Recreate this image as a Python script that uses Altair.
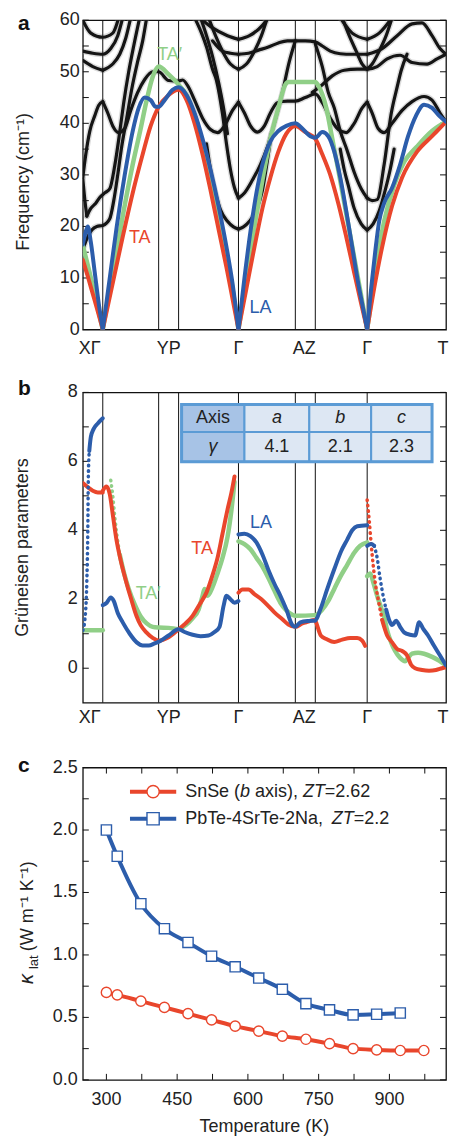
import altair as alt
import pandas as pd

FONT = "Liberation Sans"
RED = "#e9462c"
GREEN = "#90cf87"
BLUE = "#2c5dab"
BLACK = "#151515"
FRAME = "#111111"
TEXT = "#222222"

W = 364
H_A, H_B, H_C = 310, 311, 313

K_DOMAIN = [0, 364]
SYM_K = [20, 76, 96, 156, 213, 233, 285]
PATH_LABEL_K = [7, 86, 156, 222, 285, 361]
PATH_LABEL_TEXT = ["XΓ", "YP", "Γ", "AZ", "Γ", "T"]

FREQ_TICKS = [0, 5, 10, 15, 20, 25, 30, 35, 40, 45, 50, 55, 60]
FREQ_LABELS = [0, 10, 20, 30, 40, 50, 60]

TA_A = [
    [(0, 13.5), (5, 10.3), (10, 6.9), (15, 3.5), (20, 0)],
    [(20, 0), (30, 9), (40, 18), (50, 26.5), (60, 34), (68, 39.5), (76, 43.2), (86, 45.5), (96, 46.5),
     (104, 44.5), (112, 40), (120, 34), (128, 27), (136, 19.5), (144, 12), (150, 6), (156, 0)],
    [(156, 0), (164, 8), (172, 16), (180, 23.5), (188, 29.5), (196, 34.5), (204, 38), (213, 39.5),
     (223, 38.3), (233, 37), (240, 34), (248, 30), (256, 24.5), (264, 18), (272, 11), (279, 5), (285, 0)],
    [(285, 0), (292, 8), (300, 16), (310, 24), (320, 29.5), (335, 34.5), (350, 37.5), (364, 40.3)],
]
TAP_A = [
    [(0, 16.3), (10, 8.5), (20, 0)],
    [(20, 0), (30, 11), (40, 22), (50, 32), (58, 39), (64, 44.5), (70, 49), (76, 51), (86, 49.5), (96, 47.5),
     (104, 45.5), (112, 41.5), (120, 36), (128, 29.5), (136, 22.5), (144, 14.5), (150, 8), (156, 0)],
    [(156, 0), (164, 10), (172, 20), (180, 29), (188, 37), (196, 43), (203, 47.5), (206, 48), (233, 48),
     (236, 47.3), (244, 43), (250, 37), (256, 31), (264, 22.5), (272, 14), (279, 6.5), (285, 0)],
    [(285, 0), (293, 11), (302, 21), (312, 28), (322, 32.5), (335, 35.5), (350, 38.5), (364, 40.3)],
]
LA_A = [
    [(0, 16.5), (3, 19), (5, 20), (8, 17), (12, 11), (16, 5), (20, 0)],
    [(20, 0), (27, 10), (34, 20), (42, 30), (50, 38.5), (56, 43), (62, 45), (68, 44.5), (73, 43.2), (76, 43.2),
     (82, 44.5), (90, 46.5), (96, 47), (104, 45.5), (112, 42), (120, 37), (128, 31), (136, 24), (144, 16),
     (150, 9), (156, 0)],
    [(156, 0), (162, 10), (168, 19), (174, 26.5), (180, 32), (188, 36.5), (196, 38.5), (204, 39.5), (213, 40),
     (220, 39), (228, 37.5), (233, 37.2), (240, 38.3), (246, 37.5), (252, 34.5), (258, 29.5), (264, 23),
     (270, 16), (276, 9), (281, 4), (285, 0)],
    [(285, 0), (289, 8), (293, 15), (297, 21), (302, 24.5), (310, 27.5), (318, 32), (326, 37.5), (334, 41.5),
     (342, 43.6), (350, 43), (357, 41.5), (364, 40.3)],
]

OPT_LOW = [
    [(0, 29.5), (3, 34), (7, 38.5), (12, 41.5), (16, 43.5), (20, 44.2)],
    [(20, 44.2), (25, 42), (30, 39.5), (36, 38.2), (42, 39), (48, 42.5), (55, 46), (62, 48.5), (70, 50),
     (76, 50), (86, 48.3), (96, 48.2), (100, 48.4), (106, 47), (112, 44.5), (120, 41), (128, 38.8),
     (135, 38.2), (142, 39.5), (150, 42.5), (156, 44.1)],
    [(156, 44.1), (162, 42), (168, 39.5), (175, 38.3), (182, 39.5), (188, 42), (195, 44), (205, 44.3),
     (213, 44.3), (223, 45), (233, 45.7), (240, 44), (248, 41), (256, 38.8), (264, 38.2), (272, 40),
     (280, 43), (285, 44.1)],
    [(285, 44.1), (290, 42), (296, 39), (302, 38.2), (310, 40), (320, 42.5), (330, 44.2), (342, 45.2),
     (350, 44.5), (358, 42), (364, 40.3)],
]
OPT_X = [
    [(0, 29.2), (2, 25.2), (4, 22)],
    [(4, 22), (8, 23.5), (13, 24.5), (17, 25.6), (22, 26.5), (27, 27.3), (32, 31.8), (37, 38.3), (41, 44),
     (46, 50), (51, 55), (57, 60.5)],
    [(0, 15.5), (4, 17.6), (9, 19.3), (14, 20), (20, 20.2), (27, 21.5), (31, 25), (35, 30), (39, 35.5),
     (44, 41), (49, 46.6), (55, 52), (60, 56), (64, 60.5)],
]
OPT_G2 = [
    [(112, 60.5), (119, 57.5), (124, 54.8), (130, 50.5), (134, 48.3), (140, 41.8), (144, 36), (148, 31),
     (152, 27.5), (156, 25.5)],
    [(156, 25.5), (162, 26.5), (170, 29), (178, 32), (185, 35.4), (192, 40), (200, 46), (207, 52), (213, 56)],
    [(124, 36), (128, 31), (133, 26.5), (138, 23.2), (145, 21), (151, 19.9), (156, 19.5)],
    [(156, 19.5), (161, 19.9), (167, 21), (174, 23.2), (180, 27), (185, 32.8), (189, 38)],
    [(118, 60.5), (124, 57), (130, 53), (136, 48), (141, 43), (145, 38)],
]
OPT_G3 = [
    [(233, 55.4), (240, 51), (246, 46), (252, 43), (258, 38.5), (265, 34.7), (272, 30.5), (279, 27.3),
     (285, 25.5)],
    [(285, 25.5), (290, 25), (295, 25.2), (302, 32), (309, 41.8), (315, 47), (319, 50.2), (325, 53.4)],
    [(258, 35), (262, 31), (266, 28), (272, 23.5), (279, 20.5), (285, 19.3)],
    [(285, 19.3), (291, 20.5), (297, 23), (303, 27), (308, 31), (312, 35)],
]
OPT_HIGH = [
    [(0, 52.2), (10, 51), (20, 50.3)],
    [(20, 50.3), (30, 51.5), (37, 53.4), (43, 56.5), (48, 60.5)],
    [(0, 54), (10, 53.6), (20, 53.4), (28, 54.5), (35, 57), (40, 60.5)],
    [(0, 60), (8, 57.5), (20, 56.7), (30, 57.5), (36, 60.5)],
    [(126, 60.5), (133, 57), (140, 54), (148, 51.5), (156, 50.5)],
    [(156, 50.5), (164, 51.5), (172, 54), (179, 57), (185, 60.5)],
    [(130, 56), (140, 54), (148, 53.6), (156, 53.4)],
    [(156, 53.4), (166, 53.6), (176, 54.2), (186, 54.8), (196, 55.6), (205, 56), (213, 56), (223, 56),
     (233, 55.8), (240, 55), (248, 54), (258, 53.5), (270, 53.4), (285, 53.4)],
    [(117, 60.5), (130, 58.5), (145, 57), (156, 56.3)],
    [(156, 56.3), (167, 57), (180, 59), (186, 60.5)],
    [(260, 60.5), (267, 57), (274, 54), (280, 51.5), (285, 50.5)],
    [(285, 50.5), (290, 51.5), (297, 54), (304, 57), (310, 60.5)],
    [(258, 60.5), (270, 57.5), (285, 56.3)],
    [(285, 56.3), (297, 57.5), (310, 60.5)],
    [(230, 46), (240, 47.5), (250, 49.2), (262, 50.3), (275, 50.5), (285, 50.5), (295, 51), (305, 52.5),
     (318, 53.2), (330, 51.8), (345, 51.5), (355, 52.5), (364, 53.4)],
    [(285, 53.4), (300, 54.5), (315, 57), (330, 59.3), (340, 59.5), (350, 57), (358, 54.5), (364, 53.4)],
]

LABELS_A_TEXT = ["TA′", "TA", "LA"]
LABELS_A_K = [87, 57, 178]
LABELS_A_V = [53.2, 17.7, 4.1]
LABELS_A_COLOR = [GREEN, RED, BLUE]

GAMMA_TICKS = [0, 1, 2, 3, 4, 5, 6, 7, 8]
GAMMA_LABELS = [0, 2, 4, 6, 8]

LA_B = [
    [(6.5, 6.3), (8, 6.7), (11, 6.95), (15, 7.1), (20, 7.25)],
    [(20, 1.83), (24, 1.9), (28, 2.05), (31, 1.95), (35, 1.6), (40, 1.33), (47, 1.0), (54, 0.75), (60, 0.66),
     (66, 0.66), (72, 0.72), (78, 0.8), (86, 0.95), (96, 1.13), (102, 1.05), (110, 0.97), (118, 0.93),
     (126, 0.95), (132, 1.05), (137, 1.2), (141, 1.8), (144, 2.1), (148, 2.0), (152, 1.9), (156, 1.95)],
    [(156, 3.88), (162, 3.9), (168, 3.83), (174, 3.65), (180, 3.3), (186, 2.85), (192, 2.45), (198, 2.1),
     (204, 1.7), (210, 1.25), (213, 1.2), (218, 1.33), (226, 1.37), (233, 1.38), (238, 1.7), (245, 2.3),
     (252, 2.87), (259, 3.4), (265, 3.73), (270, 4.0), (275, 4.12), (285, 4.15)],
    [(285, 3.55), (289, 3.6), (292, 3.55)],
    [(304, 1.7), (307, 1.4), (310, 1.25), (314, 1.38), (318, 1.2), (322, 1.04), (328, 0.97), (333, 0.95),
     (337, 1.33), (341, 1.15), (346, 0.95), (352, 0.65), (358, 0.37), (364, 0.08)],
]
LA_B_DOTTED = [
    [(0, 1.1), (2, 1.4), (4, 2.5), (5, 4), (5.5, 5.5), (6.5, 6.3)],
    [(292, 3.55), (295, 3.2), (298, 2.6), (301, 2.1), (304, 1.7)],
]
TA_B = [
    [(0, 5.37), (5, 5.25), (10, 5.15), (15, 5.1), (20, 5.1)],
    [(20, 5.15), (23.7, 5.27), (27, 5.05), (30.3, 4.4), (33.7, 3.73), (37, 3.25), (43.7, 2.48), (48, 2.05),
     (53.7, 1.52), (58, 1.25), (63.7, 1.04), (70, 0.88), (76, 0.8), (86, 0.9), (96, 1.13), (103, 1.3),
     (110, 1.52), (117, 1.85), (124, 2.2), (130, 2.7), (135, 3.2), (140, 3.9), (145, 4.6), (149, 5.1),
     (152, 5.56)],
    [(156, 2.19), (160, 2.28), (166, 2.28), (172, 2.15), (179, 2.0), (186, 1.8), (192, 1.62), (200, 1.42),
     (206, 1.27), (213, 1.2), (220, 1.3), (226, 1.35), (232, 1.4), (238.7, 0.94), (244, 0.85), (252, 0.76),
     (260, 0.83), (268, 0.88), (275, 0.88), (280, 0.8), (283, 0.65)],
    [(300, 1.4), (305, 0.95), (310, 0.75), (315, 0.56), (320, 0.5), (325, 0.37), (329, 0.1), (333, 0.0),
     (340, -0.05), (347, -0.07), (354, -0.05), (360, 0.0), (364, 0.03)],
]
TA_B_DOTTED = [
    [(285, 4.88), (287, 4.3), (289, 3.6), (291, 3.0), (293, 2.5), (296, 2.0), (300, 1.4)],
]
TAP_B = [
    [(0, 1.1), (20, 1.1)],
    [(37, 3.3), (41, 2.8), (46, 2.3), (52, 1.85), (58, 1.5), (64, 1.3), (70, 1.2), (76, 1.18), (86, 1.17),
     (96, 1.13), (103, 1.25), (110, 1.45), (116, 1.7), (120, 2.1), (122, 2.3), (125, 2.1), (130, 2.35),
     (135, 2.75), (140, 3.2), (145, 3.8), (149, 4.6), (152, 5.4)],
    [(156, 3.68), (162, 3.6), (168, 3.45), (174, 3.2), (180, 2.95), (186, 2.62), (192, 2.25), (198, 1.9),
     (204, 1.68), (210, 1.55), (213, 1.52), (233, 1.54), (240, 1.7), (246, 1.95), (252, 2.3), (258, 2.65),
     (265, 3.0), (272, 3.35), (278, 3.55), (285, 3.65)],
    [(285, 2.67), (288, 2.75), (291, 2.5), (295, 2.1), (299, 1.75), (302, 1.5), (305, 1.1), (309, 0.75),
     (313, 0.5), (318, 0.3), (323, 0.2), (326, 0.3), (330, 0.42), (336, 0.45), (342, 0.42), (350, 0.33),
     (357, 0.22), (364, 0.08)],
]
TAP_B_DOTTED = [
    [(28, 5.45), (30, 5.0), (32, 4.4), (34, 3.9), (37, 3.3)],
]

LABELS_B_TEXT = ["TA′", "TA", "LA"]
LABELS_B_K = [65.5, 119.5, 178.5]
LABELS_B_V = [2.16, 3.47, 4.22]
LABELS_B_COLOR = [GREEN, RED, BLUE]

TABLE_K_EDGES = [99, 162, 227, 289, 350]
TABLE_V_EDGES = [7.65, 6.85, 5.99]
TABLE_HEAD = ["Axis", "a", "b", "c"]
TABLE_ROW = ["γ", "4.1", "2.1", "2.3"]
TABLE_DARK = "#a7c3e6"
TABLE_LIGHT = "#dde7f3"
TABLE_BORDER = "#5b9bd5"

SNSE_T = [300, 323, 373, 423, 473, 523, 573, 623, 673, 723, 773, 823, 873, 923, 973]
SNSE_K = [0.70, 0.68, 0.63, 0.58, 0.53, 0.48, 0.43, 0.39, 0.35, 0.325, 0.29, 0.25, 0.24, 0.235, 0.235]
PBTE_T = [300, 323, 373, 423, 473, 523, 573, 623, 673, 723, 773, 823, 873, 923]
PBTE_K = [2.0, 1.79, 1.41, 1.21, 1.10, 0.99, 0.905, 0.815, 0.725, 0.61, 0.56, 0.52, 0.525, 0.535]
T_TICKS = [300, 375, 450, 525, 600, 675, 750, 825, 900, 975]
T_LABELS = [300, 450, 600, 750, 900]
KAPPA_TICKS = [0, 0.25, 0.5, 0.75, 1.0, 1.25, 1.5, 1.75, 2.0, 2.25, 2.5]
KAPPA_LABELS = [0, 0.5, 1.0, 1.5, 2.0, 2.5]
LEG_LINE_T = [350, 448]
LEG_SYM_T = 399
LEG_TEXT_T = 467
LEG_ROW_K = [2.307, 2.09]


def seg_df(segs, prefix):
    rows = []
    for i, seg in enumerate(segs):
        for k, v in seg:
            rows.append({"branch": f"{prefix}{i}", "k": k, "v": v})
    return pd.DataFrame(rows)


def path_lines(df, color, width, xs, ys, dash=None, opacity=1.0):
    kw = dict(color=color, strokeWidth=width, interpolate="monotone", clip=True,
              strokeCap="round", strokeJoin="round", opacity=opacity)
    if dash is not None:
        kw["strokeDash"] = dash
    return alt.Chart(df).mark_line(**kw).encode(
        x=alt.X("k:Q", scale=xs, axis=None),
        y=alt.Y("v:Q", scale=ys, axis=None),
        detail="branch:N",
    )


def inward_y_ticks(values, ys, width):
    df = pd.DataFrame({"v": values})
    left = alt.Chart(df).mark_rule(color=FRAME, strokeWidth=1).encode(
        y=alt.Y("v:Q", scale=ys, axis=None), x=alt.value(0), x2=alt.value(6))
    right = alt.Chart(df).mark_rule(color=FRAME, strokeWidth=1).encode(
        y=alt.Y("v:Q", scale=ys, axis=None), x=alt.value(width - 6), x2=alt.value(width))
    return [left, right]


def y_labels(values, texts, ys, pad):
    df = pd.DataFrame({"v": values, "t": texts})
    return alt.Chart(df).mark_text(font=FONT, fontSize=18, color=TEXT, align="right", baseline="middle").encode(
        y=alt.Y("v:Q", scale=ys, axis=None), x=alt.value(-pad), text="t:N")


def x_labels(values, texts, xs, y_px):
    df = pd.DataFrame({"k": values, "t": texts})
    return alt.Chart(df).mark_text(font=FONT, fontSize=18, color=TEXT, align="center", baseline="top").encode(
        x=alt.X("k:Q", scale=xs, axis=None), y=alt.value(y_px), text="t:N")


def rot_title(t, x_px, y_px):
    return alt.Chart(pd.DataFrame({"t": [t]})).mark_text(
        font=FONT, fontSize=18, color=TEXT, angle=270, align="center", baseline="middle"
    ).encode(x=alt.value(x_px), y=alt.value(y_px), text="t:N")


def letter(t, x, y):
    return alt.Chart(pd.DataFrame({"t": [t]})).mark_text(
        font=FONT, fontSize=21, fontWeight="bold", align="left", baseline="alphabetic", color="#111"
    ).encode(x=alt.value(x), y=alt.value(y), text="t:N")


def curve_labels(texts, ks, vs, colors, xs, ys):
    df = pd.DataFrame({"t": texts, "k": ks, "v": vs, "c": colors})
    return alt.Chart(df).mark_text(font=FONT, fontSize=18, align="center", baseline="middle").encode(
        x=alt.X("k:Q", scale=xs, axis=None), y=alt.Y("v:Q", scale=ys, axis=None),
        text="t:N", color=alt.Color("c:N", scale=None))


def sym_lines():
    return alt.Chart(pd.DataFrame({"k": SYM_K})).mark_rule(color=FRAME, strokeWidth=1).encode(
        x=alt.X("k:Q", scale=XS, axis=None))


# ================= panel a =================
XS = alt.Scale(domain=K_DOMAIN, nice=False, zero=False)
YS_A = alt.Scale(domain=[0, 60], nice=False, zero=False)

black_df = pd.concat([seg_df(OPT_LOW, "low"), seg_df(OPT_X, "x"), seg_df(OPT_G2, "g2"),
                      seg_df(OPT_G3, "g3"), seg_df(OPT_HIGH, "hi")])
panel_a = alt.layer(
    path_lines(black_df, "#9a9a9a", 6, XS, YS_A, opacity=0.35),
    sym_lines(),
    *inward_y_ticks(FREQ_TICKS, YS_A, W),
    path_lines(black_df, BLACK, 3.2, XS, YS_A),
    path_lines(seg_df(TAP_A, "tap"), GREEN, 4.5, XS, YS_A),
    path_lines(seg_df(TA_A, "ta"), RED, 4, XS, YS_A),
    path_lines(seg_df(LA_A, "la"), BLUE, 4, XS, YS_A),
    curve_labels(LABELS_A_TEXT, LABELS_A_K, LABELS_A_V, LABELS_A_COLOR, XS, YS_A),
    y_labels(FREQ_LABELS, [str(v) for v in FREQ_LABELS], YS_A, 3),
    x_labels(PATH_LABEL_K, PATH_LABEL_TEXT, XS, H_A + 10.5),
    rot_title("Frequency (cm⁻¹)", -59, H_A / 2 + 7),
    letter("a", -65, 10),
).properties(width=W, height=H_A)

# ================= panel b =================
YS_B = alt.Scale(domain=[-1, 8], nice=False, zero=False)

cells = []
for r, row in enumerate([TABLE_HEAD, TABLE_ROW]):
    for c, txt in enumerate(row):
        cells.append({
            "k1": TABLE_K_EDGES[c], "k2": TABLE_K_EDGES[c + 1],
            "v1": TABLE_V_EDGES[r], "v2": TABLE_V_EDGES[r + 1],
            "kc": (TABLE_K_EDGES[c] + TABLE_K_EDGES[c + 1]) / 2,
            "vc": (TABLE_V_EDGES[r] + TABLE_V_EDGES[r + 1]) / 2,
            "fill": TABLE_DARK if c == 0 else TABLE_LIGHT,
            "t": txt,
            "italic": (r == 0 and c > 0) or (r == 1 and c == 0),
        })
cells_df = pd.DataFrame(cells)
table_rects = alt.Chart(cells_df).mark_rect(stroke=TABLE_BORDER, strokeWidth=2).encode(
    x=alt.X("k1:Q", scale=XS, axis=None), x2="k2:Q",
    y=alt.Y("v1:Q", scale=YS_B, axis=None), y2="v2:Q",
    fill=alt.Fill("fill:N", scale=None))
table_outer = alt.Chart(pd.DataFrame({"k1": [TABLE_K_EDGES[0]], "k2": [TABLE_K_EDGES[-1]],
                                      "v1": [TABLE_V_EDGES[0]], "v2": [TABLE_V_EDGES[-1]]})).mark_rect(
    fill=None, stroke=TABLE_BORDER, strokeWidth=3).encode(
    x=alt.X("k1:Q", scale=XS, axis=None), x2="k2:Q",
    y=alt.Y("v1:Q", scale=YS_B, axis=None), y2="v2:Q")


def table_text(italic):
    return alt.Chart(cells_df[cells_df["italic"] == italic]).mark_text(
        font=FONT, fontSize=18, color=TEXT, align="center", baseline="middle",
        fontStyle="italic" if italic else "normal").encode(
        x=alt.X("kc:Q", scale=XS, axis=None), y=alt.Y("vc:Q", scale=YS_B, axis=None), text="t:N")


panel_b = alt.layer(
    sym_lines(),
    *inward_y_ticks(GAMMA_TICKS, YS_B, W),
    path_lines(seg_df(TAP_B, "tap"), GREEN, 4.5, XS, YS_B),
    path_lines(seg_df(TAP_B_DOTTED, "tapd"), GREEN, 3.5, XS, YS_B, dash=[0.5, 5]),
    path_lines(seg_df(TA_B, "ta"), RED, 4, XS, YS_B),
    path_lines(seg_df(TA_B_DOTTED, "tad"), RED, 3.5, XS, YS_B, dash=[0.5, 5]),
    path_lines(seg_df(LA_B, "la"), BLUE, 4, XS, YS_B),
    path_lines(seg_df(LA_B_DOTTED, "lad"), BLUE, 3.5, XS, YS_B, dash=[0.5, 5]),
    table_rects, table_outer, table_text(False), table_text(True),
    curve_labels(LABELS_B_TEXT, LABELS_B_K, LABELS_B_V, LABELS_B_COLOR, XS, YS_B),
    y_labels(GAMMA_LABELS, [str(v) for v in GAMMA_LABELS], YS_B, 5),
    x_labels(PATH_LABEL_K, PATH_LABEL_TEXT, XS, H_B + 6.5),
    rot_title("Grüneisen parameters", -60, H_B / 2),
    letter("b", -65, 3),
).properties(width=W, height=H_B)

# ================= panel c =================
XS_C = alt.Scale(domain=[250, 1020], nice=False, zero=False)
YS_C = alt.Scale(domain=[0, 2.5], nice=False, zero=False)
snse = pd.DataFrame({"T": SNSE_T, "K": SNSE_K})
pbte = pd.DataFrame({"T": PBTE_T, "K": PBTE_K})

tdf = pd.DataFrame({"T": T_TICKS})
x_ticks_bottom = alt.Chart(tdf).mark_rule(color=FRAME, strokeWidth=1).encode(
    x=alt.X("T:Q", scale=XS_C, axis=None), y=alt.value(H_C - 6), y2=alt.value(H_C))
x_ticks_top = alt.Chart(tdf).mark_rule(color=FRAME, strokeWidth=1).encode(
    x=alt.X("T:Q", scale=XS_C, axis=None), y=alt.value(0), y2=alt.value(6))


def series(df, color, shape):
    line = alt.Chart(df).mark_line(color=color, strokeWidth=4, interpolate="monotone").encode(
        x=alt.X("T:Q", scale=XS_C, axis=None), y=alt.Y("K:Q", scale=YS_C, axis=None))
    pts = alt.Chart(df).mark_point(shape=shape, size=105, filled=True, fill="white", stroke=color,
                                   strokeWidth=1.4, opacity=1).encode(
        x=alt.X("T:Q", scale=XS_C, axis=None), y=alt.Y("K:Q", scale=YS_C, axis=None))
    return [line, pts]


def legend_row(row, color, shape, segments):
    y = LEG_ROW_K[row]
    layers = [
        alt.Chart(pd.DataFrame({"a": [LEG_LINE_T[0]], "b": [LEG_LINE_T[1]], "y": [y]})).mark_rule(
            color=color, strokeWidth=4).encode(
            x=alt.X("a:Q", scale=XS_C, axis=None), x2="b:Q", y=alt.Y("y:Q", scale=YS_C, axis=None)),
        alt.Chart(pd.DataFrame({"a": [LEG_SYM_T], "y": [y]})).mark_point(
            shape=shape, size=150, filled=True, fill="white", stroke=color, strokeWidth=1.4, opacity=1).encode(
            x=alt.X("a:Q", scale=XS_C, axis=None), y=alt.Y("y:Q", scale=YS_C, axis=None)),
    ]
    for txt, dx, italic in segments:
        layers.append(alt.Chart(pd.DataFrame({"a": [LEG_TEXT_T], "y": [y], "t": [txt]})).mark_text(
            font=FONT, fontSize=18, color=TEXT, align="left", baseline="middle", dx=dx,
            fontStyle="italic" if italic else "normal").encode(
            x=alt.X("a:Q", scale=XS_C, axis=None), y=alt.Y("y:Q", scale=YS_C, axis=None), text="t:N"))
    return layers


kappa_title = [
    alt.Chart(pd.DataFrame({"t": ["κ"]})).mark_text(
        font=FONT, fontSize=20, fontStyle="italic", angle=270, align="left", baseline="alphabetic",
        color=TEXT).encode(x=alt.value(-50), y=alt.value(217), text="t:N"),
    alt.Chart(pd.DataFrame({"t": ["lat"]})).mark_text(
        font=FONT, fontSize=13, angle=270, align="left", baseline="alphabetic",
        color=TEXT).encode(x=alt.value(-45), y=alt.value(202), text="t:N"),
    alt.Chart(pd.DataFrame({"t": ["(W m⁻¹ K⁻¹)"]})).mark_text(
        font=FONT, fontSize=18, angle=270, align="left", baseline="alphabetic",
        color=TEXT).encode(x=alt.value(-50), y=alt.value(184), text="t:N"),
]

temp_title = alt.Chart(pd.DataFrame({"t": ["Temperature (K)"]})).mark_text(
    font=FONT, fontSize=18, color=TEXT, align="center", baseline="top"
).encode(x=alt.value(W / 2), y=alt.value(H_C + 38), text="t:N")

panel_c = alt.layer(
    x_ticks_bottom, x_ticks_top,
    *inward_y_ticks(KAPPA_TICKS, YS_C, W),
    *series(pbte, BLUE, "square"),
    *series(snse, RED, "circle"),
    *legend_row(0, RED, "circle", [("SnSe (", 0, False), ("b", 55, True), ("axis),", 70, False),
                                   ("ZT", 118, True), ("=2.62", 140, False)]),
    *legend_row(1, BLUE, "square", [("PbTe-4SrTe-2Na,", 0, False), ("ZT", 147, True), ("=2.2", 169, False)]),
    y_labels(KAPPA_LABELS, [f"{v:.1f}" for v in KAPPA_LABELS], YS_C, 5),
    x_labels(T_LABELS, [str(v) for v in T_LABELS], XS_C, H_C + 11.5),
    temp_title,
    *kappa_title,
    letter("c", -65, 4),
).properties(width=W, height=H_C)

top_pair = alt.vconcat(panel_a, panel_b, spacing=18)
chart = alt.vconcat(top_pair, panel_c, spacing=25).properties(
    padding={"left": 13, "top": 9, "right": 0, "bottom": 0}
).configure_view(stroke=FRAME, strokeWidth=1.3)

chart.save("out.html", embed_options={"renderer": "svg", "actions": False})
